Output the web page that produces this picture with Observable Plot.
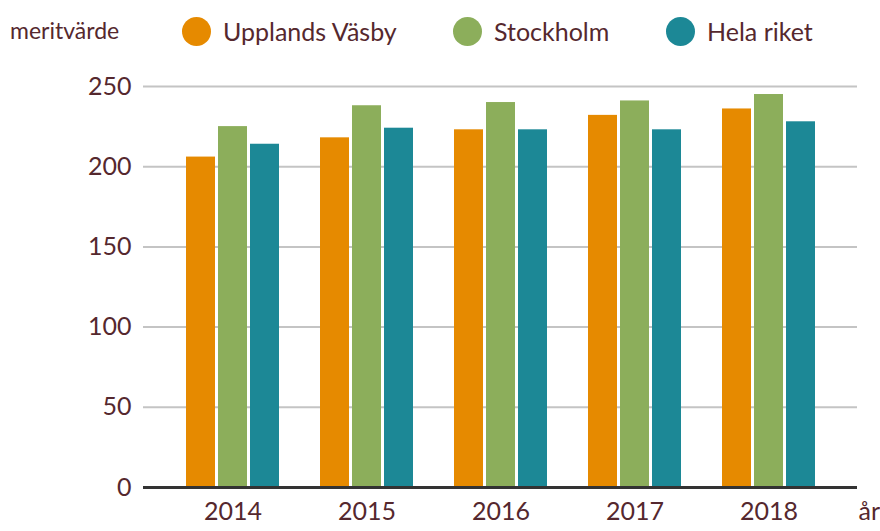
<!DOCTYPE html>
<html>
<head>
<meta charset="utf-8">
<script src="https://cdn.jsdelivr.net/npm/d3@7"></script>
<script src="https://cdn.jsdelivr.net/npm/@observablehq/plot@0.6"></script>
<style>
  html, body { margin: 0; padding: 0; background: #ffffff; }
  #wrap { position: relative; width: 880px; height: 531px; font-family: Lato, "Noto Sans", sans-serif; color: #55282e; }
  #legend { position: relative; width: 880px; height: 62px; }
  #legend .ylab { position: absolute; left: 10px; top: 16px; font-size: 23px; line-height: 28px; }
  #legend .item { position: absolute; top: 16px; height: 30px; display: flex; align-items: center; }
  #legend .dot { width: 29px; height: 29px; border-radius: 50%; margin-right: 12px; }
  #legend .lbl { font-size: 25px; line-height: 30px; }
  svg { display: block; }
</style>
</head>
<body>
<div id="wrap">
  <div id="legend"></div>
  <div id="chart"></div>
</div>
<script>
const years = ["2014", "2015", "2016", "2017", "2018"];
const seriesNames = ["Upplands Väsby", "Stockholm", "Hela riket"];
const upplandsVasby = [206, 218, 223, 232, 236];
const stockholm = [225, 238, 240, 241, 245];
const helaRiket = [214, 224, 223, 223, 228];
const seriesColors = ["#e68a00", "#8cae5b", "#1c8896"];
const yTicks = [0, 50, 100, 150, 200, 250];
const yLabel = "meritvärde";
const xLabel = "år";

const seriesValues = [upplandsVasby, stockholm, helaRiket];
const rows = seriesNames.flatMap((s, i) => years.map((y, j) => ({year: y, series: s, value: seriesValues[i][j]})));

// Legend
const legend = document.getElementById("legend");
const yl = document.createElement("div");
yl.className = "ylab"; yl.textContent = yLabel; legend.appendChild(yl);
const legendLeft = [182, 453, 666];
seriesNames.forEach((s, i) => {
  const it = document.createElement("div");
  it.className = "item"; it.style.left = legendLeft[i] + "px";
  const d = document.createElement("div"); d.className = "dot"; d.style.background = seriesColors[i];
  const t = document.createElement("span"); t.className = "lbl"; t.textContent = s;
  it.appendChild(d); it.appendChild(t); legend.appendChild(it);
});

const offsets = [-32, 0, 32];
const textColor = "#55282e";

const chart = Plot.plot({
  width: 880,
  height: 469,
  marginTop: 24,
  marginBottom: 44,
  marginLeft: 143,
  marginRight: 23,
  style: {fontFamily: "Lato, 'Noto Sans', sans-serif", fontSize: "26px", color: textColor, background: "#ffffff"},
  x: {domain: years, paddingInner: 0.784, paddingOuter: 0.556, label: null},
  y: {domain: [0, 250], ticks: yTicks, label: null},
  marks: [
    Plot.ruleY(yTicks.filter(d => d > 0), {stroke: "#c4c4c4", strokeWidth: 2}),
    ...seriesNames.map((s, i) => Plot.barY(rows.filter(r => r.series === s), {
      x: "year", y: "value", fill: seriesColors[i], dx: offsets[i], insetLeft: 0, insetRight: 0
    })),
    Plot.ruleY([0], {stroke: "#333333", strokeWidth: 3}),
    Plot.axisY({ticks: yTicks, tickSize: 0, tickPadding: 12, fill: textColor, fontSize: 25, label: null}),
    Plot.axisX({tickSize: 0, tickPadding: 15, fill: textColor, fontSize: 25, label: null}),
    Plot.text([xLabel], {frameAnchor: "bottom-right", textAnchor: "start", lineAnchor: "top", dx: 1, dy: 15, fill: textColor, fontSize: 25})
  ]
});
document.getElementById("chart").appendChild(chart);
</script>
</body>
</html>
